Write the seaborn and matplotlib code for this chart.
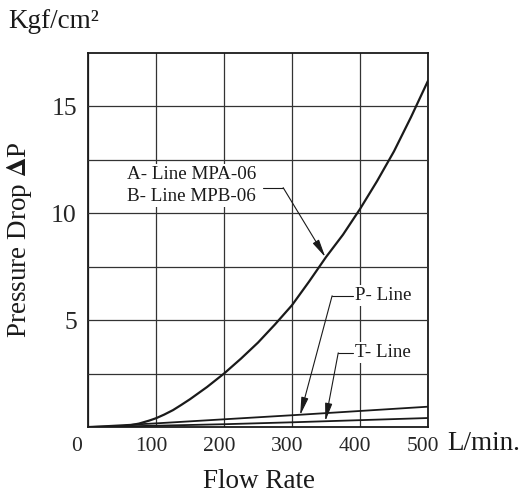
import numpy as np
import pandas as pd
import matplotlib
matplotlib.use("Agg")
import matplotlib.pyplot as plt
import matplotlib.transforms as mtransforms
import seaborn as sns

# ---- data ----
flow_a = [0, 25, 50, 60, 75, 90, 100, 112, 125, 137, 150, 175, 200, 225, 250, 275, 300, 325, 350, 375, 400, 425, 450, 475, 500]
dp_a = [0, 0.0, 0.03, 0.07, 0.16, 0.3, 0.41, 0.58, 0.79, 1.03, 1.3, 1.87, 2.5, 3.2, 3.95, 4.8, 5.7, 6.8, 7.95, 9.0, 10.2, 11.5, 12.9, 14.5, 16.2]
flow_pt = [0, 100, 200, 300, 400, 500]
dp_p = [0, 0.17, 0.36, 0.55, 0.75, 0.95]
dp_t = [0, 0.06, 0.13, 0.22, 0.32, 0.42]
x_ticks = [0, 100, 200, 300, 400, 500]
y_ticks = [5, 10, 15]
y_grid = [2.5, 5, 7.5, 10, 12.5, 15]
label_a = "A- Line MPA-06\nB- Line MPB-06"
label_p = "P- Line"
label_t = "T- Line"

sns.set_theme(style="white")
plt.rcParams["font.family"] = ["Liberation Serif", "DejaVu Serif"]
plt.rcParams["mathtext.fontset"] = "stix"

fig = plt.figure(figsize=(5.25, 4.93), dpi=100)
ax = fig.add_axes([88/525, 1-427/493, 340/525, 374/493])

df_a = pd.DataFrame({"flow": flow_a, "dp": dp_a})
df_pt = pd.DataFrame({"flow": flow_pt, "P": dp_p, "T": dp_t})
sns.lineplot(data=df_a, x="flow", y="dp", ax=ax, color="#1a1a1a", lw=1.6, zorder=4)
sns.lineplot(data=df_pt, x="flow", y="P", ax=ax, color="#1a1a1a", lw=1.3, zorder=4)
sns.lineplot(data=df_pt, x="flow", y="T", ax=ax, color="#1a1a1a", lw=1.3, zorder=4)

ax.set_xlim(0, 500)
ax.set_ylim(0, 17.5)
ax.set_xticks(x_ticks)
ax.set_yticks(y_ticks)
ax.set_xticklabels([str(v) for v in x_ticks], fontsize=15.5)
ax.set_yticklabels([str(v) for v in y_ticks], fontsize=18.5)
ax.tick_params(axis="both", length=0)
ax.tick_params(axis="x", pad=7)
ax.tick_params(axis="y", pad=8)
for i, lab in enumerate(ax.get_xticklabels()):
    dx = -11 if i == 0 else -5
    lab.set_transform(lab.get_transform() + mtransforms.ScaledTranslation(dx/100, 0, fig.dpi_scale_trans))
ax.set_xlabel("")
ax.set_ylabel("")
ax.set_axisbelow(True)
ax.grid(axis="x", color="#333333", lw=0.9)
ax.grid(axis="y", visible=False)
for yv in y_grid:
    ax.axhline(yv, color="#333333", lw=0.9, zorder=3)
for s in ax.spines.values():
    s.set_color("#1a1a1a")
    s.set_linewidth(1.3)

tbox = dict(facecolor="white", edgecolor="none", pad=1.5)
# A/B label
ax.text(57, 11.3, label_a, fontsize=13.7, ha="left", va="center", linespacing=1.35,
        bbox=tbox, zorder=2.5, color="#1a1a1a")
ax.plot([257, 287], [11.2, 11.2], color="#1a1a1a", lw=0.8, zorder=5)
arrow = dict(arrowstyle="-|>,head_length=0.9,head_width=0.18", color="#1a1a1a", lw=0.8,
             shrinkA=0, shrinkB=0)
ax.annotate("", xy=(349, 7.95), xytext=(287, 11.2), arrowprops=arrow, zorder=5)
# P label
ax.text(393, 6.14, label_p, fontsize=13.7, ha="left", va="center", bbox=tbox, zorder=2.5, color="#1a1a1a")
ax.plot([390, 359], [6.14, 6.14], color="#1a1a1a", lw=0.8, zorder=5)
ax.annotate("", xy=(312, 0.55), xytext=(359, 6.14), arrowprops=arrow, zorder=5)
# T label
ax.text(393, 3.47, label_t, fontsize=13.7, ha="left", va="center", bbox=tbox, zorder=2.5, color="#1a1a1a")
ax.plot([390, 368], [3.47, 3.47], color="#1a1a1a", lw=0.8, zorder=5)
ax.annotate("", xy=(349, 0.27), xytext=(368, 3.47), arrowprops=arrow, zorder=5)

# outer texts (figure pixel coords)
def fx(px):
    return px/525
def fy(py):
    return 1 - py/493

fig.text(fx(8), fy(22), "Kgf/cm²", fontsize=19.5, ha="left", va="center", color="#1a1a1a")
fig.text(fx(447), fy(443), "L/min.", fontsize=19.5, ha="left", va="center", color="#1a1a1a")
fig.text(fx(259), fy(482), "Flow Rate", fontsize=19.5, ha="center", va="center", color="#1a1a1a")
fig.text(fx(20), fy(240), "Pressure Drop $\\mathbf{\\Delta}$P", fontsize=19.5, rotation=90,
         ha="center", va="center", color="#1a1a1a")

fig.savefig("out.png", dpi=100)
